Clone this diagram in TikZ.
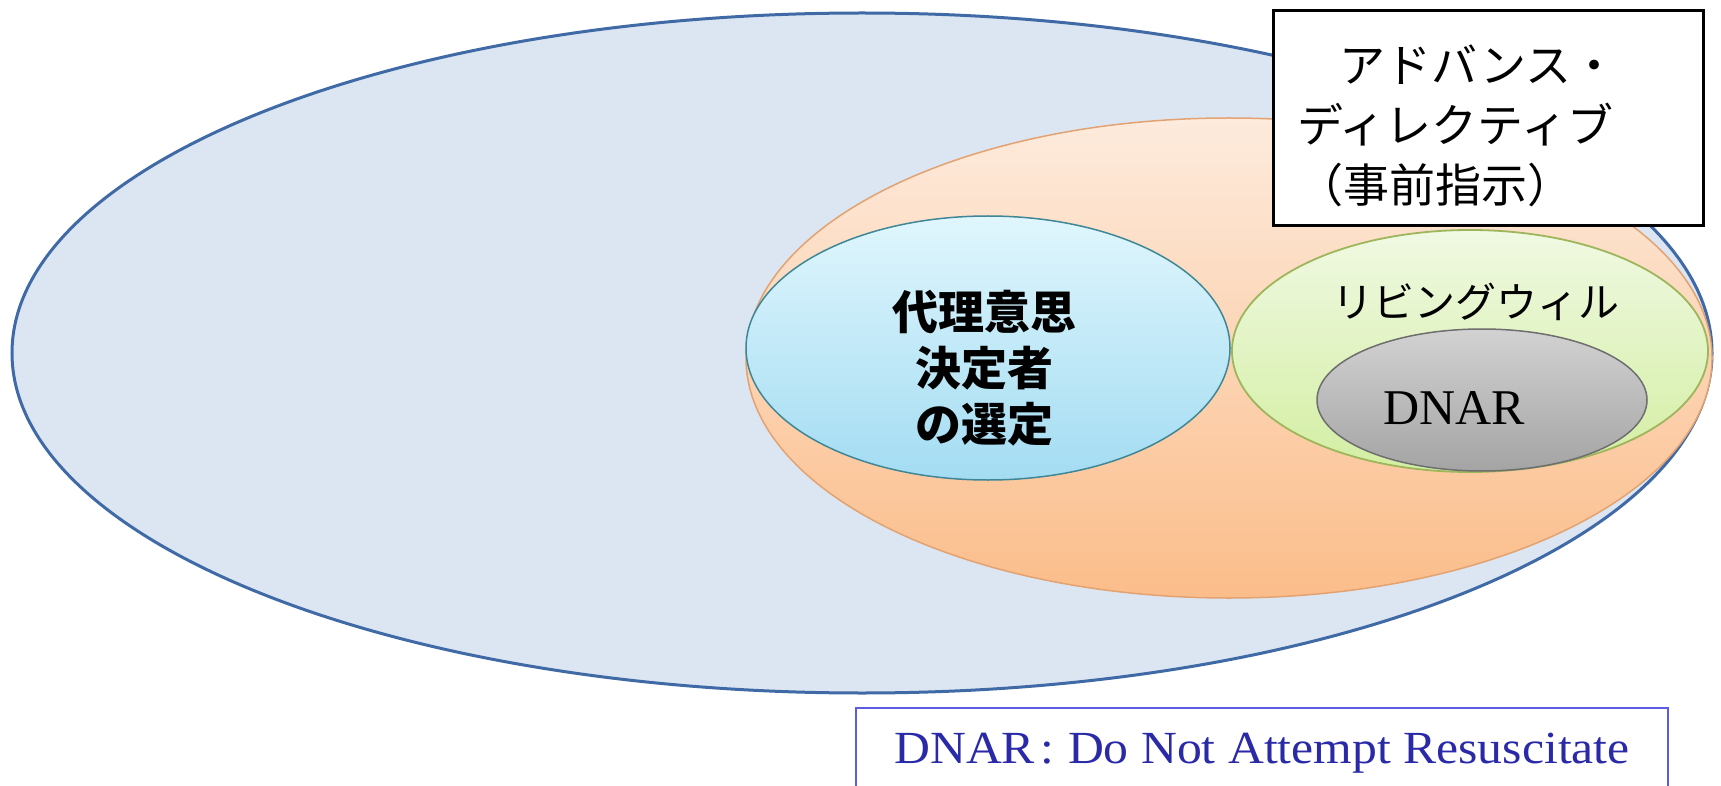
\documentclass[tikz,border=0pt]{standalone}
\usepackage{fontspec}
\setmainfont{Liberation Serif}
\newfontfamily\jp{Noto Sans CJK JP}
\newfontfamily\legfont[FakeStretch=1.08]{Liberation Serif}
\usetikzlibrary{shapes.geometric}
\definecolor{outerfill}{HTML}{DCE6F2}
\definecolor{outerline}{HTML}{3F6AA6}
\definecolor{advtop}{HTML}{FDEBDD}
\definecolor{advbot}{HTML}{FBBD8A}
\definecolor{advline}{HTML}{E3A271}
\definecolor{proxytop}{HTML}{E0F6FD}
\definecolor{proxybot}{HTML}{A3DCF2}
\definecolor{proxyline}{HTML}{3F8796}
\definecolor{livetop}{HTML}{F0F9E3}
\definecolor{livebot}{HTML}{D3EEA2}
\definecolor{liveline}{HTML}{9DB65C}
\definecolor{dnartop}{HTML}{D2D2D2}
\definecolor{dnarbot}{HTML}{A4A4A4}
\definecolor{dnarline}{HTML}{6E6E6E}
\definecolor{legline}{HTML}{5B5BE3}
\definecolor{legtext}{HTML}{2A2AA8}
\tikzset{
  oval/.style={ellipse, inner sep=0pt, outer sep=0pt},
  outerset/.style={oval, fill=outerfill, draw=outerline, line width=3pt},
  advset/.style={oval, top color=advtop, bottom color=advbot, draw=advline, line width=1.5pt},
  proxyset/.style={oval, top color=proxytop, bottom color=proxybot, draw=proxyline, line width=1.5pt},
  liveset/.style={oval, top color=livetop, bottom color=livebot, draw=liveline, line width=1.8pt},
  dnarset/.style={oval, top color=dnartop, bottom color=dnarbot, draw=dnarline, line width=1.5pt},
  jplabel/.style={font=\jp\fontsize{46}{60}\selectfont, inner sep=0pt},
}
\begin{document}
\begin{tikzpicture}[x=1pt,y=-1pt]
\useasboundingbox (0,0) rectangle (1721,786);
\clip (0,0) rectangle (1721,786);
\fill[white] (0,0) rectangle (1721,786);
% ellipses
\node[outerset, minimum width=1700pt, minimum height=680pt] (outer) at (862,353) {};
\node[advset, minimum width=966pt, minimum height=480pt] (adv) at (1229,358) {};
\node[proxyset, minimum width=484pt, minimum height=264pt] (proxy) at (988,348) {};
\node[liveset, minimum width=476pt, minimum height=242pt] (live) at (1470,351) {};
\node[dnarset, minimum width=330pt, minimum height=142pt] (dnar) at (1482,400) {};
% title box
\node[rectangle, draw=black, fill=white, line width=3pt, minimum width=430pt, minimum height=215pt, inner sep=0pt] (advbox) at (1488,118.5) {};
\node[jplabel, anchor=west, align=left] (advtext) at (1297,126)
  {\hspace*{0.93em}アドバンス・\\ディレクティブ\\（事前指示）};
% labels
\node[font=\jp\bfseries\fontsize{46}{56}\selectfont, align=center, inner sep=0pt] (proxytext) at (984,368)
  {代理意思\\決定者\\の選定};
\node[font=\jp\fontsize{41}{50}\selectfont, inner sep=0pt] (livetext) at (1476,302) {リビングウィル};
\node[font=\fontsize{50}{60}\selectfont, inner sep=0pt] (dnartext) at (1454,408) {DNAR};
% legend
\node[rectangle, draw=legline, fill=white, line width=2.5pt, minimum width=812pt, minimum height=90pt,
      inner sep=0pt, text=legtext, font=\legfont\fontsize{46}{54}\selectfont] (legend) at (1262,753)
  {DNAR\hspace{0.12em}:\hspace{0.3em}Do Not Attempt Resuscitate};
\end{tikzpicture}
\end{document}
